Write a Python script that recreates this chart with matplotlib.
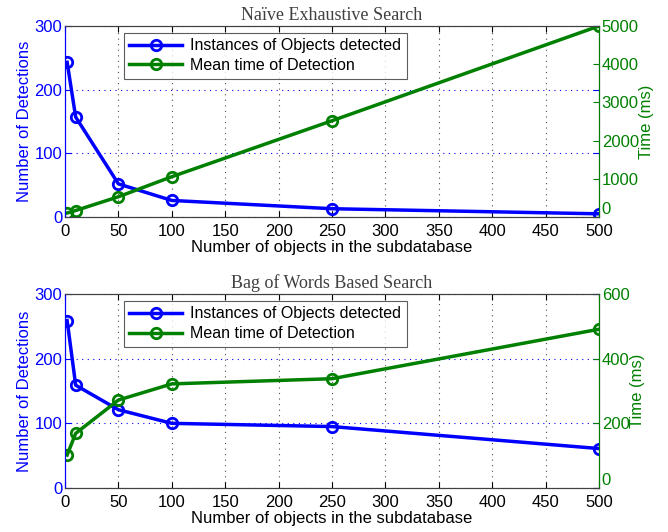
import matplotlib
matplotlib.use('Agg')
import matplotlib.pyplot as plt

plt.rcParams['font.family'] = ['Liberation Sans', 'DejaVu Sans']

# objects in subdatabase
n_objects = [2, 10, 50, 100, 250, 500]

# naive exhaustive search
naive_detections = [243, 157, 52, 26, 13, 5]
naive_time = [105, 170, 530, 1055, 2520, 5000]

# bag of words based search
bow_detections = [259, 159, 121, 100, 95, 61]
bow_time = [102, 169, 272, 322, 338, 491]

titles = ['Naïve Exhaustive Search', 'Bag of Words Based Search']
right_limits = [5000, 600]
right_ticks = [[0, 1000, 2000, 3000, 4000, 5000], [0, 200, 400, 600]]
x_ticks = [0, 50, 100, 150, 200, 250, 300, 350, 400, 450, 500]

blue = (0, 0, 1)
green = (0, 0.5, 0)

fig = plt.figure(figsize=(6.68, 5.32), dpi=100)

positions = [
    [65 / 668, 1 - 217 / 532, 534 / 668, 191 / 532],
    [65 / 668, 1 - 488 / 532, 534 / 668, 194 / 532],
]
series = [(naive_detections, naive_time), (bow_detections, bow_time)]

for i in range(2):
    det, tm = series[i]
    ax1 = fig.add_axes(positions[i])
    ax2 = ax1.twinx()

    l1, = ax1.plot(n_objects, det, '-o', color=blue, lw=2.5, ms=7.5,
                   mfc='none', mew=2, label='Instances of Objects detected')
    l2, = ax2.plot(n_objects, tm, '-o', color=green, lw=2.5, ms=7.5,
                   mfc='none', mew=2, label='Mean time of Detection')

    ax1.set_xlim(0, 500)
    ax1.set_ylim(0, 300)
    ax1.set_yticks([0, 100, 200, 300])
    ax1.set_xticks(x_ticks)
    ax2.set_ylim(0, right_limits[i])
    ax2.set_yticks(right_ticks[i])

    ax1.xaxis.grid(True, linestyle=(0, (1, 4)), color='0.3', lw=0.8)
    ax1.yaxis.grid(True, linestyle=(0, (1, 4)), color=blue, lw=0.8)

    ax1.tick_params(axis='x', direction='in', top=True, labelsize=12, length=4, pad=5)
    ax1.tick_params(axis='y', direction='in', right=True, colors=blue, labelsize=12,
                    length=4, pad=2)
    ax2.tick_params(axis='y', direction='in', colors=green, labelsize=12, length=4, pad=2)
    # lift the right-hand zero a touch so it clears the x label "500"
    ax2.get_yticklabels()[0].set_verticalalignment('bottom')

    ax1.spines['left'].set_color(blue)
    ax2.spines['left'].set_color(blue)
    ax2.spines['right'].set_color(green)
    for ax in (ax1, ax2):
        ax.spines['top'].set_color('0.25')
        ax.spines['bottom'].set_color('0.25')

    ax1.set_ylabel('Number of Detections', color=blue, fontsize=12, labelpad=2)
    ax2.set_ylabel('Time (ms)', color=green, fontsize=12, labelpad=0)
    ax1.set_xlabel('Number of objects in the subdatabase', fontsize=12, labelpad=1)
    ax1.set_title(titles[i], family=['Liberation Serif', 'DejaVu Serif'],
                  fontsize=13, color='0.25', pad=4)

    leg = ax2.legend([l1, l2], [l1.get_label(), l2.get_label()],
                     loc='upper left', bbox_to_anchor=(0.11, 0.965), borderaxespad=0,
                     fontsize=11.5, handlelength=3.3, frameon=True, fancybox=False,
                     edgecolor='0.2', borderpad=0.35, labelspacing=0.3,
                     handletextpad=0.5)
    leg.get_frame().set_linewidth(0.8)

fig.savefig('out.png', dpi=100)
